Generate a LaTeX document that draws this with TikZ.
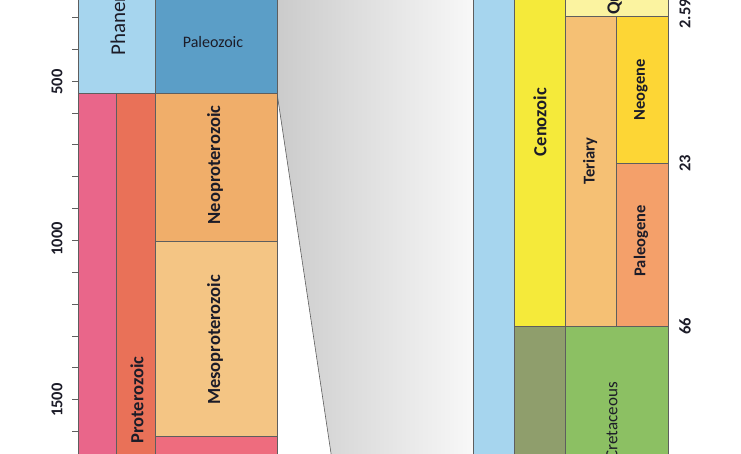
\documentclass[tikz,border=0pt]{standalone}
\usepackage{fontspec}
\setmainfont{Carlito}
\definecolor{edgegray}{HTML}{5E5E5E}
\definecolor{inkdark}{HTML}{1C1C28}
\definecolor{funnelL}{HTML}{CBCBCB}
\definecolor{funnelR}{HTML}{F8F8F8}
\definecolor{phanblue}{HTML}{A6D5EE}
\definecolor{paleoblue}{HTML}{5B9EC7}
\definecolor{precpink}{HTML}{E9668A}
\definecolor{protred}{HTML}{E97158}
\definecolor{neoprot}{HTML}{F0AE6A}
\definecolor{mesoprot}{HTML}{F4C584}
\definecolor{paleoprot}{HTML}{EE6C7E}
\definecolor{cenoyellow}{HTML}{F5EA3A}
\definecolor{mesoolive}{HTML}{8F9E6C}
\definecolor{quatyellow}{HTML}{FBF3A0}
\definecolor{tertorange}{HTML}{F5C074}
\definecolor{neogold}{HTML}{FDD635}
\definecolor{paleogorange}{HTML}{F4A06A}
\definecolor{cretgreen}{HTML}{8CC063}
\tikzset{
	unit/.style={draw=edgegray, line width=.6pt},
	lbl/.style={font=\fontsize{16.5}{18}\selectfont\bfseries, text=inkdark, inner sep=0pt},
	biglbl/.style={font=\fontsize{18.5}{20}\selectfont\bfseries, text=inkdark, inner sep=0pt, rotate=90},
	thinlbl/.style={font=\fontsize{16}{18}\selectfont, text=inkdark, inner sep=0pt},
	vlbl/.style={lbl, rotate=90},
}
\begin{document}
\begin{tikzpicture}[x=1pt,y=-1pt]
	\useasboundingbox (0,0) rectangle (741,453);
	\clip (0,0) rectangle (741,453);
	% zoom funnel
	\shade[left color=funnelL, right color=funnelR]
		(277,-5) -- (277,93) -- (332,460) -- (473,460) -- (473,-5) -- cycle;
	\draw[edgegray, line width=.6pt] (277,93) -- (332,460);
	% left chart: eons
	\draw[unit, fill=phanblue] (78,-5) rectangle (155,93);
	\draw[unit, fill=precpink] (78,93) rectangle (116,460);
	\draw[unit, fill=protred] (116,93) rectangle (155,460);
	% left chart: eras
	\draw[unit, fill=paleoblue] (155,-5) rectangle (277,93);
	\draw[unit, fill=neoprot] (155,93) rectangle (277,241);
	\draw[unit, fill=mesoprot] (155,241) rectangle (277,436);
	\draw[unit, fill=paleoprot] (155,436) rectangle (277,460);
	% axis
	\draw[edgegray, line width=.6pt] (78,-5) -- (78,460);
	\foreach \t in {300,400,...,1600}
		\draw[edgegray, line width=.6pt] (72,{81+(\t-500)*0.3185}) -- (78,{81+(\t-500)*0.3185});
	\node[vlbl] (ma500) at (57,82) {500};
	\node[vlbl] (ma1000) at (57,239) {1000};
	\node[vlbl] (ma1500) at (57,400) {1500};
	\node[thinlbl, font=\fontsize{21}{23}\selectfont, rotate=90, anchor=west] (phanerozoic) at (118,56) {Phanerozoic};
	\node[thinlbl] (paleozoic) at (213,42) {Paleozoic};
	\node[biglbl] (neoproterozoic) at (215,165) {Neoproterozoic};
	\node[biglbl] (mesoproterozoic) at (215,340) {Mesoproterozoic};
	\node[biglbl] (proterozoic) at (137,400) {Proterozoic};
	% right chart
	\draw[unit, fill=phanblue] (473,-5) rectangle (514,460);
	\draw[unit, fill=cenoyellow] (514,-5) rectangle (565,326);
	\draw[unit, fill=mesoolive] (514,326) rectangle (565,460);
	\draw[unit, fill=quatyellow] (565,-5) rectangle (668,16);
	\draw[unit, fill=tertorange] (565,16) rectangle (616,326);
	\draw[unit, fill=neogold] (616,16) rectangle (668,163);
	\draw[unit, fill=paleogorange] (616,163) rectangle (668,326);
	\draw[unit, fill=cretgreen] (565,326) rectangle (668,460);
	\node[biglbl] (cenozoic) at (540,122) {Cenozoic};
	\node[biglbl, anchor=west] (quaternary) at (615,15) {Quaternary};
	\node[vlbl] (teriary) at (590,161) {Teriary};
	\node[vlbl] (neogene) at (641,90) {Neogene};
	\node[vlbl] (paleogene) at (641,241) {Paleogene};
	\node[thinlbl, font=\fontsize{17}{19}\selectfont, rotate=90, anchor=east] (cretaceous) at (612,382) {Cretaceous};
	\node[vlbl] (ma2p59) at (685,14) {2.59};
	\node[vlbl] (ma23) at (685,163) {23};
	\node[vlbl] (ma66) at (685,326) {66};
\end{tikzpicture}
\end{document}
